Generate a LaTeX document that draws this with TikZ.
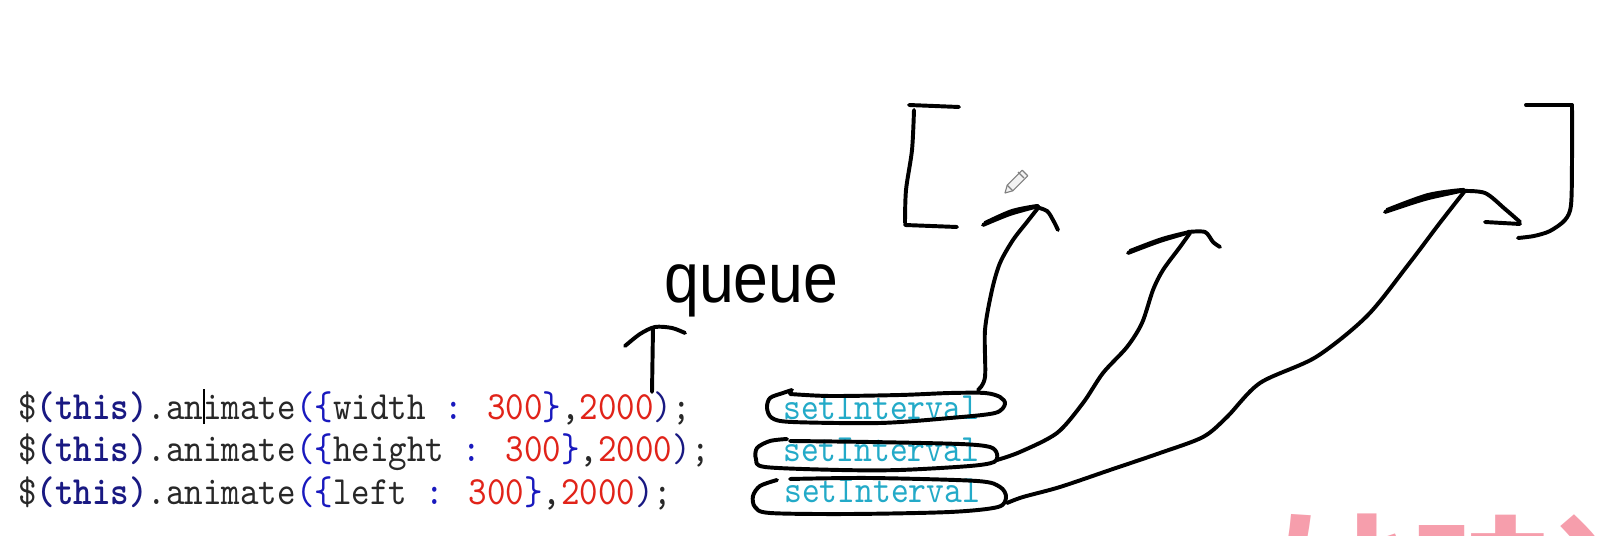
\documentclass[tikz,border=0pt]{standalone}
\usepackage{fontspec}
\newfontfamily\codefont[Extension=.otf,UprightFont=*-regular,BoldFont=lmmonolt10-bold,FakeStretch=0.88]{lmmono10}
\newfontfamily\handfont[FakeStretch=0.89]{Liberation Sans}
\newfontfamily\cjkfont{Noto Sans CJK SC}

\definecolor{codenavy}{RGB}{25,25,130}
\definecolor{codeblue}{RGB}{25,25,190}
\definecolor{codered}{RGB}{225,35,25}
\definecolor{codegray}{RGB}{40,40,40}
\definecolor{setcyan}{RGB}{35,170,200}
\definecolor{wmpink}{RGB}{246,158,172}

\newcommand{\codekw}[1]{\textcolor{codenavy}{#1}}
\newcommand{\codepn}[1]{\textcolor{codeblue}{#1}}
\newcommand{\codenum}[1]{\textcolor{codered}{#1}}
\newcommand{\textcaret}{\rlap{\color{black}\rule[-3pt]{1pt}{25pt}}}

\tikzset{
  ink/.style={line width=2.8pt, line cap=round, line join=round},
  codetext/.style={anchor=base west, inner sep=0pt, text=codegray,
    font=\codefont\fontsize{28.5}{30}\selectfont},
  settext/.style={anchor=base west, inner sep=0pt, text=setcyan,
    font=\codefont\fontsize{27.4}{30}\selectfont},
}

\begin{document}
\begin{tikzpicture}[x=0.025cm,y=-0.025cm]

    \useasboundingbox[fill=white] (0,0) rectangle (1600,536);

    % Watermark (cut off by the bottom edge)
    \begin{scope}
    \clip (0,0) rectangle (1600,536);
    \node[anchor=base west, inner sep=0pt, text=wmpink,
      font=\cjkfont\bfseries\fontsize{99.6}{100}\selectfont] (brand) at (1271,634) {妙味课堂};
    \end{scope}

    % Code lines
    \node[codetext] (line1) at (18,420) {\$\codekw{\textbf{(this)}}.an\textcaret imate\codepn{(\{}width \codepn{:} \codenum{300}\codepn{\}},\codenum{2000}\codekw{)};};
    \node[codetext] (line2) at (18,462) {\$\codekw{\textbf{(this)}}.animate\codepn{(\{}height \codepn{:} \codenum{300}\codepn{\}},\codenum{2000}\codekw{)};};
    \node[codetext] (line3) at (18,505) {\$\codekw{\textbf{(this)}}.animate\codepn{(\{}left \codepn{:} \codenum{300}\codepn{\}},\codenum{2000}\codekw{)};};

    % setInterval labels
    \node[settext] (set1) at (783,420) {setInterval};
    \node[settext] (set2) at (783,462) {setInterval};
    \node[settext] (set3) at (784,503) {setInterval};

    % Loops round the labels
    \draw[ink] plot[smooth] coordinates {(792,390) (783,393) (770,398) (767,408) (772,418) (792,422) (880,423) (950,418) (995,413) (1005,404) (1000,397) (985,393) (950,393) (900,395) (830,396) (790,394)};
    \draw[ink] plot[smooth] coordinates {(787,439) (770,441) (757,448) (756,459) (765,467) (840,470) (900,470) (970,466) (994,462) (997,454) (990,447) (960,444) (870,442) (790,441)};
    \draw[ink] plot[smooth] coordinates {(777,480) (760,486) (753,496) (755,507) (770,513) (850,514) (950,512) (998,507) (1006,497) (1000,487) (977,481) (870,478) (790,479)};

    % queue
    \node[anchor=base west, inner sep=0pt, font=\handfont\fontsize{50}{52}\selectfont] (queue) at (664,303) {queue};
    \draw[ink] (652,392) -- (653,328);
    \draw[ink] plot[smooth] coordinates {(625,346) (640,334) (655,327) (672,328) (685,333)};

    % Brackets
    \draw[ink] (909,105) -- (959,107);
    \draw[ink] plot[smooth] coordinates {(914,110) (912,150) (906,190) (905,223)};
    \draw[ink] (905,225) -- (957,227);
    \draw[ink] (1526,105) -- (1572,105);
    \draw[ink] plot[smooth] coordinates {(1572,105) (1572,160) (1571,205) (1565,220) (1550,231) (1534,236) (1518,238)};

    % Arrow from first setInterval
    \draw[ink] plot[smooth] coordinates {(978,390) (985,377) (985,330) (992,290) (1000,263) (1013,240) (1027,222) (1038,208)};
    \draw[ink] plot[smooth] coordinates {(983,225) (1010,214) (1038,206) (1012,211) (985,223)};
    \draw[ink] plot[smooth] coordinates {(1036,207) (1047,211) (1053,220) (1058,230)};

    % Arrow from second setInterval
    \draw[ink] plot[smooth] coordinates {(997,460) (1020,452) (1057,433) (1083,403) (1103,373) (1127,347) (1142,323) (1153,290) (1163,270) (1180,247) (1190,233)};
    \draw[ink] plot[smooth] coordinates {(1128,253) (1160,241) (1190,232) (1162,239) (1130,251)};
    \draw[ink] plot[smooth] coordinates {(1188,232) (1205,232) (1213,242) (1220,247)};

    % Arrow from third setInterval
    \draw[ink] plot[smooth] coordinates {(1007,503) (1023,497) (1060,487) (1110,470) (1160,453) (1203,437) (1227,417) (1260,383) (1316,357) (1367,316) (1408,265) (1439,224) (1464,192)};
    \draw[ink] plot[smooth] coordinates {(1385,212) (1425,199) (1464,190) (1428,195) (1387,210)};
    \draw[ink] plot[smooth] coordinates {(1462,191) (1485,193) (1505,209) (1520,222)};
    \draw[ink] (1485,222) -- (1520,224);

    % Pencil cursor
    \draw[gray, line width=0.8pt, fill=gray!10, line join=round] (1005,193) -- (1012.8,190.8) -- (1027.8,175.8) -- (1022.2,170.2) -- (1007.2,185.2) -- cycle;
    \draw[gray, line width=0.8pt] (1007.2,185.2) -- (1012.8,190.8);
    \draw[gray, line width=0.8pt] (1018,172) -- (1024,178);

\end{tikzpicture}
\end{document}
